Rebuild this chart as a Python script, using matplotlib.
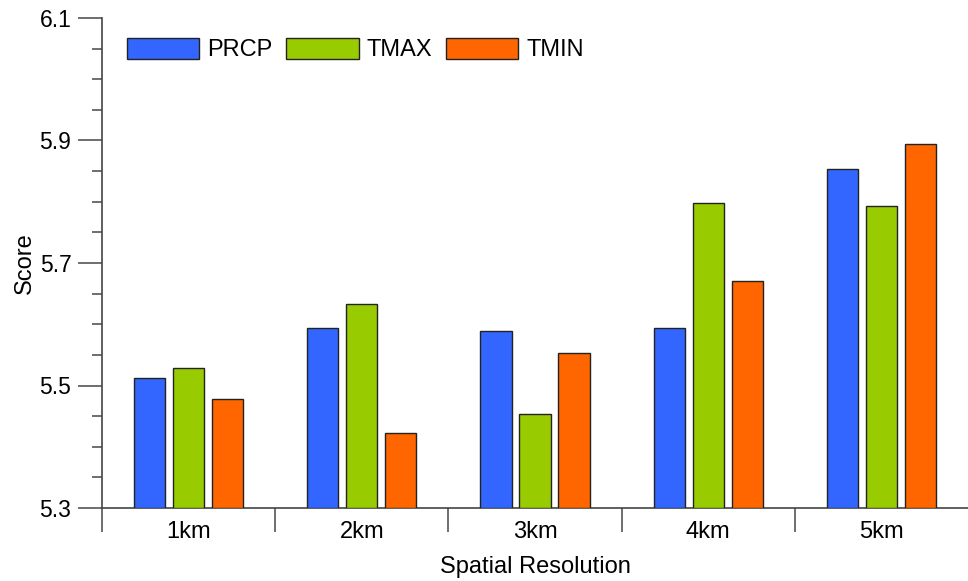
import matplotlib
matplotlib.use("Agg")
import matplotlib.pyplot as plt
from matplotlib.ticker import MultipleLocator, FixedLocator
import numpy as np

categories = ["1km", "2km", "3km", "4km", "5km"]
series_names = ["PRCP", "TMAX", "TMIN"]
prcp = [5.512, 5.594, 5.589, 5.594, 5.854]
tmax = [5.529, 5.633, 5.454, 5.798, 5.793]
tmin = [5.478, 5.422, 5.553, 5.671, 5.894]
colors = ["#3366FF", "#99CC00", "#FF6600"]
yticks = [5.3, 5.5, 5.7, 5.9, 6.1]

plt.rcParams['font.family'] = ['Liberation Sans', 'DejaVu Sans']

fig = plt.figure(figsize=(9.68, 5.81), dpi=100)
ax = fig.add_axes([102/968, 1-508/581, 866/968, 490/581])

x = np.arange(len(categories))
width = 0.18
offset = 0.225
for i, (vals, name, c) in enumerate(zip([prcp, tmax, tmin], series_names, colors)):
    ax.bar(x + (i-1)*offset, np.array(vals) - 5.3, bottom=5.3, width=width,
           color=c, edgecolor="#222222", linewidth=1.0, label=name, zorder=3)

ax.set_xlim(-0.5, len(categories) - 0.5)
ax.set_ylim(5.3, 6.1)
ax.yaxis.set_major_locator(FixedLocator(yticks))
ax.yaxis.set_minor_locator(MultipleLocator(0.05))
ax.set_yticklabels([f"{v:.1f}" for v in yticks])

ax.set_xticks(x)
ax.set_xticklabels(categories)
ax.xaxis.set_minor_locator(FixedLocator(np.arange(-0.5, len(categories) - 1, 1.0)))
ax.tick_params(axis='x', which='major', length=0, pad=9, labelsize=17)
ax.tick_params(axis='x', which='minor', length=17, width=1.2, color="#555555")
ax.tick_params(axis='y', which='major', length=17, width=1.2, color="#555555", labelsize=16.5, pad=5)
ax.tick_params(axis='y', which='minor', length=7, width=1.2, color="#555555")

for s in ["top", "right"]:
    ax.spines[s].set_visible(False)
for s in ["left", "bottom"]:
    ax.spines[s].set_color("#444444")
    ax.spines[s].set_linewidth(1.2)

ax.set_ylabel("Score", fontsize=17, labelpad=3)
ax.set_xlabel("Spatial Resolution", fontsize=17, labelpad=10)

leg = ax.legend(loc="upper left", ncol=3, frameon=False, fontsize=17,
                handlelength=3.05, handleheight=1.0, columnspacing=0.6,
                handletextpad=0.34, borderaxespad=0.0, borderpad=0.4,
                bbox_to_anchor=(0.018, 0.979))
for h in leg.legend_handles:
    h.set_edgecolor("#222222")

fig.savefig("out.png", dpi=100)
